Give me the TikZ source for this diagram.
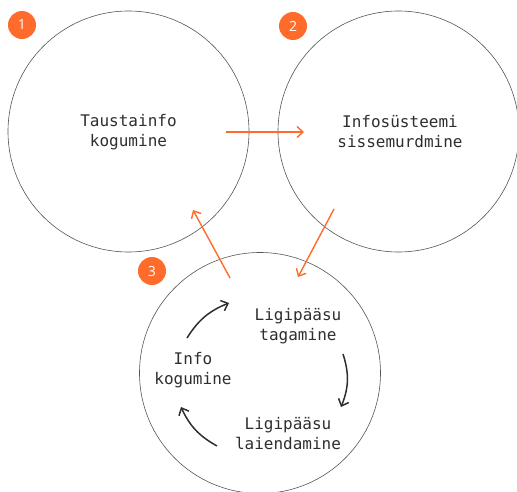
\documentclass[tikz,border=0pt]{standalone}
\usepackage{fontspec}
\setmainfont{Open Sans}
\newfontfamily\monof{DejaVu Sans Mono}
\usetikzlibrary{arrows.meta}
\definecolor{orng}{HTML}{FF6B2B}
\definecolor{txt}{HTML}{2E2E2E}
\definecolor{ring}{HTML}{555555}
\begin{document}
\begin{tikzpicture}[x=1pt,y=-1pt,
  stage/.style={circle,draw=ring,line width=0.6pt,minimum size=241pt,inner sep=0pt},
  lbl/.style={font=\monof\fontsize{16}{20}\selectfont,text=txt,align=center},
  badge/.style={circle,fill=orng,minimum size=28pt,inner sep=0pt,text=white,font=\fontsize{14}{16}\selectfont},
  oarrow/.style={draw=orng,line width=1.4pt,-{Straight Barb[length=6pt,width=11pt,line width=1.4pt]}},
  barrow/.style={draw=txt,line width=1.5pt,-{Straight Barb[length=6pt,width=11pt,line width=1.5pt]}}]
\useasboundingbox (0,0) rectangle (517,492);
\node[stage] (c1) at (128.5,131.5) {};
\node[stage] (c2) at (398.5,131.5) {};
\node[stage] (c3) at (260,373) {};
\node[badge] (b1) at (22,25) {1};
\node[badge] (b2) at (293,26) {2};
\node[badge] (b3) at (152,271) {3};
\node[lbl] (t1) at (128.5,132) {Taustainfo\\kogumine};
\node[lbl] (t2) at (400,132) {Infosüsteemi\\sissemurdmine};
\node[lbl] (t3a) at (298,326) {Ligipääsu\\tagamine};
\node[lbl] (t3b) at (288,434) {Ligipääsu\\laiendamine};
\node[lbl] (t3c) at (193,370) {Info\\kogumine};
\coordinate (a1s) at (226,132); \coordinate (a1e) at (304,132);
\coordinate (a2s) at (334,209); \coordinate (a2e) at (298,277);
\coordinate (a3s) at (230,278); \coordinate (a3e) at (193,210);
\draw[oarrow] (a1s) -- (a1e);
\draw[oarrow] (a2s) -- (a2e);
\draw[oarrow] (a3s) -- (a3e);
\coordinate (k1s) at (187,338); \coordinate (k1e) at (229,303);
\coordinate (k2s) at (343,354); \coordinate (k2e) at (341,407);
\coordinate (k3s) at (217,446); \coordinate (k3e) at (181,407);
\draw[barrow] (k1s) to[bend left=18] (k1e);
\draw[barrow] (k2s) to[bend left=20] (k2e);
\draw[barrow] (k3s) to[bend left=18] (k3e);
\end{tikzpicture}
\end{document}
